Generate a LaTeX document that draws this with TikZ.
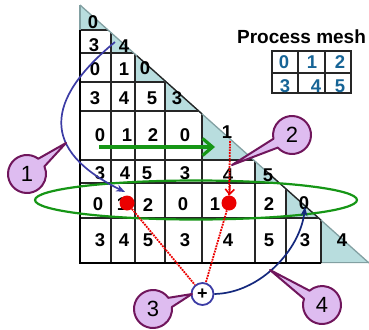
\documentclass[tikz,border=0pt]{standalone}
\usepackage{fontspec}
\setmainfont{Liberation Sans}
\usetikzlibrary{arrows.meta,calc,shapes.geometric}
\definecolor{teal1}{RGB}{184,221,222}
\definecolor{gridgrey}{RGB}{130,160,162}
\definecolor{mygreen}{RGB}{22,150,22}
\definecolor{curveblue}{RGB}{60,60,165}
\definecolor{navy1}{RGB}{20,40,125}
\definecolor{calfill}{RGB}{222,188,240}
\definecolor{calline}{RGB}{112,22,92}
\definecolor{meshblue}{RGB}{22,100,150}
\definecolor{dotred}{RGB}{235,0,0}
\begin{document}
\begin{tikzpicture}[x=1pt,y=1pt,
  dig/.style={font=\fontsize{18.5}{18.5}\selectfont\bfseries, inner sep=0pt},
  meshdig/.style={dig, text=meshblue},
  title/.style={font=\fontsize{19}{19}\selectfont\bfseries, inner sep=0pt},
  callout/.style={fill=calfill, draw=calline, line width=2pt, line join=round},
  calnum/.style={font=\fontsize{22}{22}\selectfont, inner sep=0pt},
  garrow/.style={draw=mygreen, line width=3.2pt, -{Straight Barb[length=10pt,width=17pt]}},
  curveone/.style={draw=curveblue, line width=1.7pt, -{Stealth[length=9pt,width=7pt]}},
  curvefour/.style={draw=navy1, line width=1.7pt, -{Stealth[length=9pt,width=7pt]}},
  reddotline/.style={draw=dotred, line width=1.8pt, densely dotted},
  reddot/.style={circle, fill=dotred, inner sep=0pt, minimum size=15pt},
  plusnode/.style={circle, draw=curveblue, line width=1.8pt, fill=white, minimum size=22pt, inner sep=0pt, font=\fontsize{18}{18}\selectfont\bfseries},
  ringstyle/.style={ellipse, draw=mygreen, line width=2.2pt, minimum width=322pt, minimum height=39pt, inner sep=0pt}
]
\useasboundingbox (0,0) rectangle (369,-329);
\def\XX{{80,111,135,165,202,255,286,321,369}}
\def\YY{{5,30,53,82,111,160,183,218,263}}
% grid
\begin{scope}
\clip (80,-5) -- (80,-263) -- (369,-263) -- cycle;
\fill[teal1] (80,-5) rectangle (369,-263);
\foreach \r in {0,...,7}{
  \pgfmathsetmacro{\xa}{\XX[\r]}\pgfmathsetmacro{\xb}{\XX[\r+1]}
  \pgfmathsetmacro{\ya}{\YY[\r]}\pgfmathsetmacro{\yb}{\YY[\r+1]}
  \draw[gridgrey, line width=1.3pt] (\xa,-\ya) rectangle (\xb,-\yb);
}
\foreach \r in {1,...,7}{
  \pgfmathtruncatemacro{\cm}{\r-1}
  \foreach \c in {0,...,\cm}{
    \pgfmathsetmacro{\xa}{\XX[\c]}\pgfmathsetmacro{\xb}{\XX[\c+1]}
    \pgfmathsetmacro{\ya}{\YY[\r]}\pgfmathsetmacro{\yb}{\YY[\r+1]}
    \filldraw[fill=white, draw=black!85, line width=1.2pt] (\xa,-\ya) rectangle (\xb,-\yb);
  }
}
\end{scope}
\coordinate (da) at (80,-5);
\coordinate (db) at (369,-263);
\draw[gridgrey, line width=1.3pt] (da) -- (db);
\draw[black!85, line width=1.3pt] ($(da)!0.197!(db)$) -- ($(da)!0.422!(db)$);
\draw[black!85, line width=1.3pt] ($(da)!0.640!(db)$) -- ($(da)!0.834!(db)$);
\draw[gridgrey, line width=1.3pt] (80,-5) -- (80,-30);
\draw[black, line width=2.4pt] (80,-30) -- (80,-263) -- (321,-263);
% digits
\foreach \n/\x/\y/\t in {
  g00/93/22/0,
  g10/94/45/3, g11/124/46/4,
  g20/95/69/0, g21/124/69/1, g22/145/68/0,
  g30/95/98/3, g31/124/98/4, g32/152/98/5, g33/177/98/3,
  g40/100/135/0, g41/127/135/1, g42/153/135/2, g43/185/135/0, g44/227/132/1,
  g50/100/173/3, g51/125/173/4, g52/147/173/5, g53/185/173/3, g54/228/175/4, g55/268/175/5,
  g60/98/204/0, g61/122/204/1, g62/148/205/2, g63/183/204/0, g64/215/204/1, g65/269/204/2, g66/304/203/0,
  g70/100/240/3, g71/124/240/4, g72/148/240/5, g73/185/240/3, g74/228/240/4, g75/269/240/5, g76/305/240/3, g77/342/240/4}
  \node[dig] (\n) at (\x,-\y) {\t};
% process mesh
\node[title] (ttl) at (301.5,-37) {Process mesh};
\draw[black!85, line width=1.2pt] (272,-51) rectangle (351,-93);
\draw[black!85, line width=1.2pt] (298,-51) -- (298,-93) (325,-51) -- (325,-93) (272,-73) -- (351,-73);
\foreach \n/\x/\y/\t in {m0/284/62/0, m1/312/62/1, m2/340/62/2, m3/285/86/3, m4/316/86/4, m5/340/86/5}
  \node[meshdig] (\n) at (\x,-\y) {\t};
% green arrow and ellipse
\coordinate (ga) at (99,-147);
\coordinate (gb) at (215,-147);
\draw[garrow] (ga) -- (gb);
\node[ringstyle] (ring) at (196,-200) {};
% red dots, plus node
\node[reddot] (dotL) at (127,-203) {};
\node[reddot] (dotR) at (229,-203) {};
\node[plusnode] (pl) at (202.5,-294) {+};
\coordinate (rtop) at (230,-141);
\draw[reddotline] (rtop) -- (dotR);
\draw[dotred, line width=1.6pt, -{Straight Barb[length=5pt,width=9pt]}] (230,-185) -- (dotR);
\draw[reddotline] (dotL) -- (pl);
\draw[reddotline] (dotR) -- (pl);
% blue curves
\coordinate (s1) at (115,-42);
\coordinate (e1) at (125,-192);
\draw[curveone] (s1) .. controls (45,-100) and (40,-150) .. (e1);
\coordinate (e4) at (305,-207);
\draw[curvefour] (pl.east) .. controls (260,-293) and (300,-250) .. (e4);
% callouts
\coordinate (c1) at (27,-174);  \coordinate (t1) at (66,-143);
\coordinate (c2) at (292,-135); \coordinate (t2) at (232,-165);
\coordinate (c3) at (153,-309); \coordinate (t3) at (192,-294);
\coordinate (c4) at (322,-305); \coordinate (t4) at (270,-270);
\foreach \c/\t in {c1/t1,c2/t2,c3/t3,c4/t4}{
  \draw[callout] let \p1=($(\t)-(\c)$), \n1={atan2(\y1,\x1)} in
    (\t) -- ($(\c)+(\n1+15:19pt)$) arc[start angle=\n1+15, end angle=\n1+345, radius=19pt] -- cycle;
}
\node[calnum] (n1) at (c1) {1};
\node[calnum] (n2) at (c2) {2};
\node[calnum] (n3) at (c3) {3};
\node[calnum] (n4) at (c4) {4};
\end{tikzpicture}
\end{document}
